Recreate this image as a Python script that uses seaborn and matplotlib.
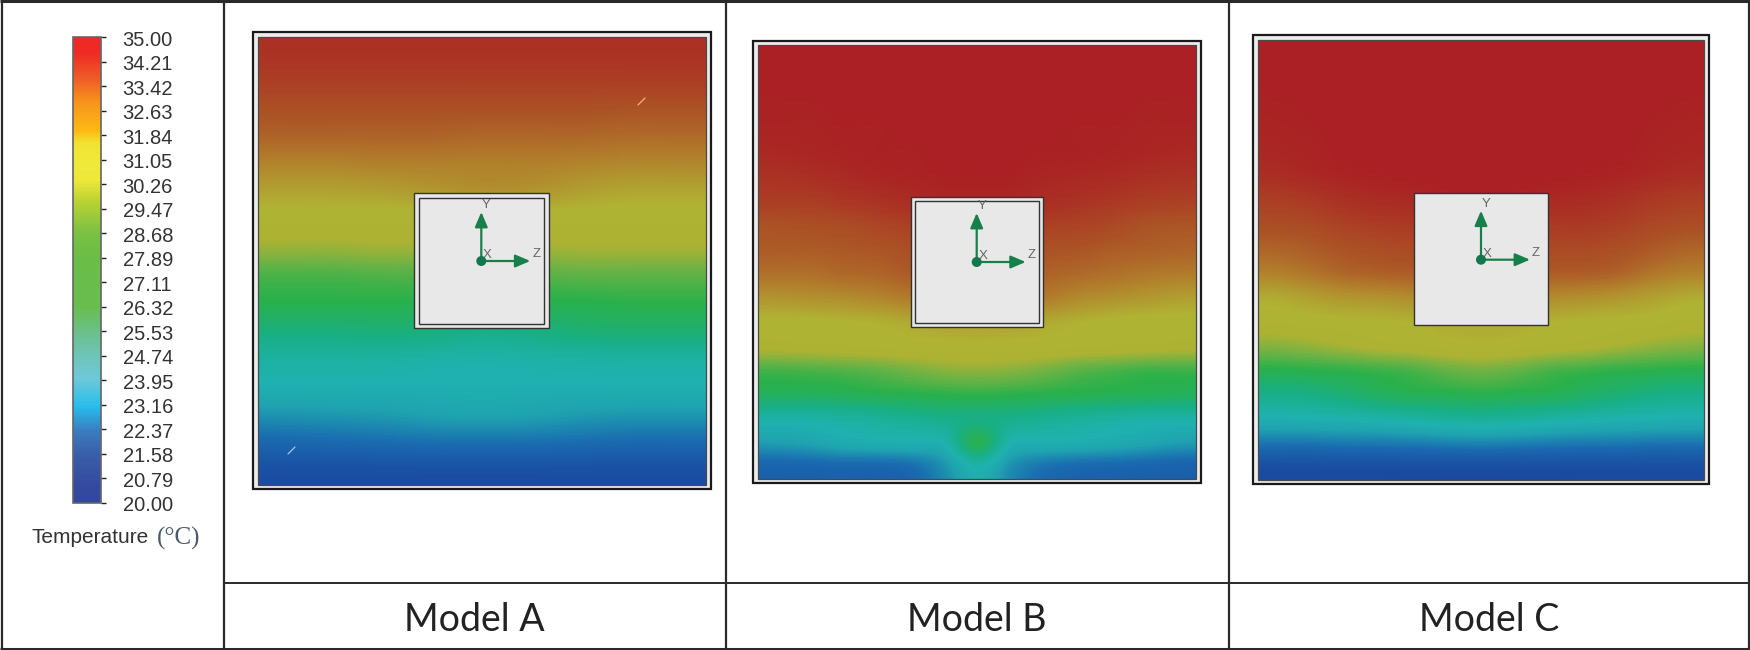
import matplotlib
matplotlib.use('Agg')
import matplotlib.pyplot as plt
import numpy as np
import seaborn as sns
from matplotlib.cm import ScalarMappable
from matplotlib.colors import LinearSegmentedColormap, Normalize
from matplotlib.patches import Circle, Rectangle
from matplotlib.transforms import ScaledTranslation

# values, temperature in deg C
tick_values = [35.00, 34.21, 33.42, 32.63, 31.84, 31.05, 30.26, 29.47, 28.68, 27.89,
               27.11, 26.32, 25.53, 24.74, 23.95, 23.16, 22.37, 21.58, 20.79, 20.00]
model_names = ['Model A', 'Model B', 'Model C']

model_a = [
    [34.2, 34.2, 34.2, 34.2, 34.2, 34.2, 34.2, 34.2, 34.2],
    [33.8, 33.8, 33.8, 33.8, 33.8, 33.8, 33.8, 33.8, 33.8],
    [33.2, 33.2, 33.2, 33.2, 33.2, 33.2, 33.2, 33.1, 33.1],
    [32.6, 32.6, 32.6, 32.6, 32.5, 32.5, 32.5, 32.4, 32.4],
    [31.7, 31.7, 31.8, 31.8, 31.8, 31.8, 31.7, 31.6, 31.6],
    [30.8, 30.8, 30.9, 31.1, 31.3, 31.2, 30.9, 30.7, 30.7],
    [30.0, 30.0, 30.0, 30.0, 30.0, 30.0, 30.0, 30.0, 30.0],
    [29.2, 29.2, 29.3, 29.3, 29.3, 29.3, 29.4, 29.4, 29.4],
    [28.0, 28.0, 28.1, 28.1, 28.1, 28.2, 28.3, 28.3, 28.3],
    [27.4, 27.4, 27.4, 27.4, 27.4, 27.4, 27.4, 27.5, 27.5],
    [26.2, 26.2, 26.3, 26.2, 25.9, 26.1, 26.4, 26.5, 26.5],
    [25.0, 25.0, 25.0, 24.8, 24.7, 24.8, 24.9, 25.0, 25.0],
    [24.3, 24.3, 24.3, 24.3, 24.3, 24.3, 24.3, 24.3, 24.3],
    [23.1, 23.2, 23.3, 23.5, 23.6, 23.5, 23.3, 23.2, 23.2],
    [21.8, 21.9, 22.0, 22.1, 22.1, 22.1, 22.0, 21.9, 21.9],
    [20.6, 20.6, 20.6, 20.6, 20.6, 20.6, 20.6, 20.6, 20.6],
]

model_b = [
    [35.0, 35.0, 35.0, 35.0, 35.0, 35.0, 35.0, 35.0, 35.0, 35.0, 35.0, 35.0, 35.0],
    [35.0, 35.0, 35.0, 35.0, 35.0, 35.0, 35.0, 35.0, 35.0, 35.0, 35.0, 35.0, 35.0],
    [34.9, 34.9, 35.0, 35.0, 35.0, 35.0, 35.0, 35.0, 35.0, 35.0, 35.0, 34.9, 34.9],
    [34.8, 34.8, 34.9, 34.9, 35.0, 35.0, 35.0, 35.0, 35.0, 34.9, 34.9, 34.8, 34.8],
    [34.6, 34.7, 34.8, 34.9, 34.9, 35.0, 35.0, 35.0, 34.9, 34.9, 34.8, 34.7, 34.6],
    [34.2, 34.3, 34.5, 34.7, 34.8, 34.9, 34.9, 34.9, 34.7, 34.6, 34.5, 34.3, 34.2],
    [33.8, 33.8, 34.0, 34.2, 34.4, 34.6, 34.6, 34.6, 34.4, 34.2, 34.0, 33.8, 33.7],
    [33.1, 33.2, 33.3, 33.5, 33.7, 34.0, 34.0, 34.0, 33.7, 33.6, 33.4, 33.1, 33.0],
    [32.8, 32.8, 32.9, 33.0, 33.2, 33.5, 33.5, 33.5, 33.1, 33.0, 32.8, 32.7, 32.6],
    [32.2, 32.2, 32.4, 32.5, 32.8, 33.0, 33.0, 33.0, 32.6, 32.4, 32.2, 32.0, 31.9],
    [31.2, 31.3, 31.4, 31.6, 31.9, 32.2, 32.2, 32.2, 31.9, 31.5, 31.3, 31.1, 30.9],
    [30.2, 30.2, 30.3, 30.4, 30.6, 30.9, 30.9, 30.9, 30.6, 30.4, 30.2, 30.1, 30.1],
    [29.7, 29.8, 29.9, 30.0, 30.1, 30.1, 30.2, 30.1, 30.1, 30.0, 29.9, 29.8, 29.7],
    [27.9, 28.0, 28.1, 28.3, 28.6, 28.9, 29.0, 28.9, 28.6, 28.2, 28.0, 27.8, 27.8],
    [27.0, 27.0, 27.1, 27.3, 27.4, 27.5, 27.6, 27.5, 27.4, 27.3, 27.2, 27.1, 27.0],
    [24.8, 24.8, 25.0, 25.2, 25.5, 25.8, 26.0, 25.8, 25.5, 25.2, 25.0, 24.8, 24.8],
    [23.4, 23.6, 24.0, 24.2, 24.3, 24.5, 27.3, 24.5, 24.3, 24.2, 24.0, 23.7, 23.4],
    [21.7, 21.7, 21.8, 21.8, 22.0, 23.0, 24.6, 23.0, 22.2, 21.9, 21.8, 21.7, 21.6],
]

model_c = [
    [35.0, 35.0, 35.0, 35.0, 35.0, 35.0, 35.0, 35.0, 35.0, 35.0, 35.0, 35.0, 35.0],
    [35.0, 35.0, 35.0, 35.0, 35.0, 35.0, 35.0, 35.0, 35.0, 35.0, 35.0, 35.0, 35.0],
    [34.9, 35.0, 35.0, 35.0, 35.0, 35.0, 35.0, 35.0, 35.0, 35.0, 35.0, 35.0, 34.9],
    [34.8, 34.9, 35.0, 35.0, 35.0, 35.0, 35.0, 35.0, 35.0, 35.0, 35.0, 34.9, 34.8],
    [34.7, 34.8, 35.0, 35.0, 35.0, 35.0, 35.0, 35.0, 35.0, 35.0, 35.0, 34.8, 34.7],
    [34.4, 34.6, 34.8, 34.9, 35.0, 35.0, 35.0, 35.0, 35.0, 34.9, 34.8, 34.6, 34.4],
    [33.8, 34.0, 34.3, 34.5, 34.6, 34.8, 35.0, 34.8, 34.6, 34.5, 34.3, 34.0, 33.8],
    [33.3, 33.4, 33.7, 33.9, 34.0, 34.2, 34.3, 34.2, 34.0, 34.0, 33.8, 33.5, 33.3],
    [32.6, 32.8, 33.1, 33.3, 33.4, 33.6, 33.6, 33.6, 33.4, 33.4, 33.2, 32.9, 32.6],
    [31.8, 32.1, 32.5, 32.7, 32.8, 32.9, 32.9, 32.9, 32.8, 32.8, 32.6, 32.1, 31.8],
    [30.6, 30.9, 31.2, 31.3, 31.5, 31.6, 31.6, 31.6, 31.5, 31.4, 31.2, 30.9, 30.6],
    [30.0, 30.1, 30.2, 30.3, 30.4, 30.6, 30.6, 30.6, 30.4, 30.3, 30.2, 30.1, 29.9],
    [28.9, 29.1, 29.4, 29.7, 29.9, 30.1, 30.2, 30.1, 29.9, 29.7, 29.4, 29.1, 28.9],
    [27.4, 27.5, 27.6, 27.8, 28.0, 28.4, 28.6, 28.4, 28.0, 27.8, 27.6, 27.5, 27.4],
    [25.8, 26.0, 26.4, 26.9, 27.2, 27.3, 27.4, 27.3, 27.2, 26.8, 26.4, 26.0, 25.8],
    [24.3, 24.4, 24.5, 24.7, 24.9, 25.2, 25.3, 25.2, 24.9, 24.7, 24.5, 24.4, 24.3],
    [22.3, 22.3, 22.4, 22.4, 22.5, 22.6, 22.7, 22.6, 22.5, 22.4, 22.4, 22.3, 22.3],
    [20.5, 20.5, 20.5, 20.5, 20.5, 20.5, 20.5, 20.5, 20.5, 20.5, 20.5, 20.5, 20.5],
]

# the field colours are duller than the ones on the legend bar, so two colormaps
t_min, t_max = 20, 35
field_stops = [(20, '#1a459f'), (22, '#1a6bb0'), (23.5, '#1fa3b0'), (24.5, '#1fb2af'),
               (26, '#19af84'), (27.5, '#2ab14b'), (28.5, '#6db345'), (29.5, '#aeb233'),
               (30.3, '#b0b434'), (31.8, '#b2802c'), (33, '#ac5526'), (34.2, '#ab3324'),
               (35, '#aa2024')]
bar_stops = [(20, '#3148a0'), (20.5, '#3349a0'), (21.5, '#3a5da8'), (22.3, '#3a7bc0'),
             (23.1, '#27bdec'), (24, '#6ec8d8'), (24.7, '#6dc5ba'), (25.5, '#6bc08a'),
             (26.3, '#69bd4e'), (27.9, '#6abd45'), (28.7, '#7ac143'), (29.7, '#b9d233'),
             (30.4, '#eee83a'), (31, '#efe93a'), (31.6, '#f2e231'), (32, '#fdb913'),
             (32.9, '#f7941d'), (33.7, '#ee5a28'), (34.5, '#ee2a24'), (35, '#ee2a24')]


def make_cmap(name, stops):
    pos = [(t - t_min) / (t_max - t_min) for t, c in stops]
    return LinearSegmentedColormap.from_list(name, list(zip(pos, [c for t, c in stops])), N=512)


field_cmap = make_cmap('field', field_stops)
bar_cmap = make_cmap('bar', bar_stops)

sns.set_theme(style='white')
plt.rcParams['font.family'] = ['Liberation Sans', 'DejaVu Sans']

W, H = 1750, 650
fig = plt.figure(figsize=(W / 100, H / 100), dpi=100)


def px_axes(x0, y0, x1, y1, zorder):
    # axes placed in picture pixels, y going down
    return fig.add_axes([x0 / W, 1 - y1 / H, (x1 - x0) / W, (y1 - y0) / H], zorder=zorder)


base = px_axes(0, 0, W, H, 0)
top = px_axes(0, 0, W, H, 2)
for a in (base, top):
    a.set_xlim(0, W)
    a.set_ylim(H, 0)
    a.axis('off')
top.patch.set_alpha(0)

# table lines
line_col = '#2a2a2a'
for x in [1.5, 223.5, 725.5, 1228.5, 1749]:
    base.plot([x, x], [0, H], color=line_col, lw=1.6, solid_capstyle='butt')
for y in [1, 648.5]:
    base.plot([0, W], [y, y], color=line_col, lw=2.2, solid_capstyle='butt')
base.plot([223.5, W], [582.5, 582.5], color=line_col, lw=1.4, solid_capstyle='butt')

panels = [
    dict(data=model_a, outer=(252.5, 32.3, 710.7, 489), inner=(257.7, 37.3, 705.7, 484.7),
         square=(414.3, 193.3, 548.7, 328.3), hole=(419, 198.3, 544, 323.7), origin=(481.3, 261), label_x=474.5),
    dict(data=model_b, outer=(752.7, 40.7, 1201.3, 483.3), inner=(757.7, 45.3, 1196.3, 478.7),
         square=(911, 196.7, 1042.7, 327), hole=(915.3, 201, 1038.7, 322.7), origin=(976.7, 262), label_x=977),
    dict(data=model_c, outer=(1253.3, 35.3, 1708.7, 484), inner=(1258.3, 40, 1704.3, 480),
         square=(1414.3, 193.3, 1548.3, 325.3), hole=None, origin=(1481, 259.7), label_x=1489),
]


def px_rect(ax, box, **kw):
    x0, y0, x1, y1 = box
    ax.add_patch(Rectangle((x0, y0), x1 - x0, y1 - y0, **kw))


arrow_col = '#17804a'
for name, p in zip(model_names, panels):
    px_rect(base, p['outer'], fc='#ececec', ec='#1a1a1a', lw=1.6)

    ax = px_axes(*p['inner'], 1)
    field = np.array(p['data'])
    sns.heatmap(field, ax=ax, cmap=field_cmap, vmin=t_min, vmax=t_max, cbar=False,
                xticklabels=False, yticklabels=False)
    n_rows, n_cols = field.shape
    # smooth the coarse grid the way the solver's plot looks, above the mesh
    ax.imshow(field, cmap=field_cmap, vmin=t_min, vmax=t_max, aspect='auto', zorder=3,
              interpolation='catrom', extent=(0, n_cols, n_rows, 0))
    ax.set_xlim(0, n_cols)
    ax.set_ylim(n_rows, 0)
    px_rect(top, p['inner'], fc='none', ec='#4a4a4a', lw=0.9)

    px_rect(top, p['square'], fc='#e8e8e8', ec='#333333', lw=1.0)
    if p['hole']:
        px_rect(top, p['hole'], fc='none', ec='#333333', lw=1.0)

    ox, oy = p['origin']
    for tip in [(ox, oy - 49), (ox + 49, oy)]:
        top.annotate('', xy=tip, xytext=(ox, oy),
                     arrowprops=dict(arrowstyle='-|>,head_length=0.75,head_width=0.32', color=arrow_col,
                                     lw=1.6, mutation_scale=12, shrinkA=0, shrinkB=0))
    top.add_patch(Circle((ox, oy), 5, fc='#12774a', ec='none', zorder=5))
    for letter, dx, dy in [('Y', 5, -56), ('X', 6, -6), ('Z', 55, -7)]:
        top.text(ox + dx, oy + dy, letter, color='#666666', fontsize=9.5, ha='center', va='center')

    top.text(p['label_x'], 620, name, family='Lato', fontsize=27, color='#222222', ha='center', va='center')

# the two small streaks in model A
top.plot([638, 645], [105, 98], color='#f3b08a', lw=0.9)
top.plot([288, 295], [454, 447], color='#9fc8ea', lw=0.9)

# legend bar
cax = px_axes(73, 37, 101, 503, 1)
cbar = fig.colorbar(ScalarMappable(Normalize(t_min, t_max), bar_cmap), cax=cax, ticks=tick_values)
cbar.outline.set_edgecolor('#666666')
cbar.outline.set_linewidth(1.2)
cbar.ax.set_yticklabels(['%.2f' % t for t in tick_values])
cbar.ax.tick_params(axis='y', length=3.5, width=1, color='#222222', pad=12,
                    labelsize=14.5, labelcolor='#333333', right=True)
# labels sit a little below their ticks in the original
for lbl in cbar.ax.get_yticklabels():
    lbl.set_transform(lbl.get_transform() + ScaledTranslation(0, -1 / 100, fig.dpi_scale_trans))

top.text(32, 543, 'Temperature', fontsize=15, color='#333333', ha='left', va='baseline')
top.text(157, 545, '(°C)', family='Liberation Serif', fontsize=18, color='#4a5a6a', ha='left', va='baseline')

fig.savefig('out.png', dpi=100)
